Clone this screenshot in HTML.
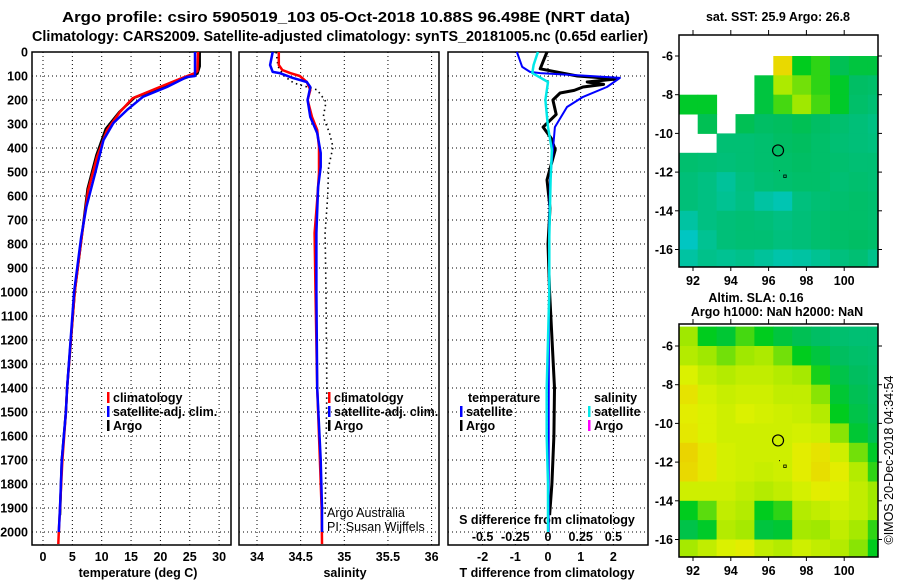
<!DOCTYPE html>
<html><head><meta charset="utf-8"><style>
html,body{margin:0;padding:0;background:#fff;}
svg{display:block;font-family:"Liberation Sans",sans-serif;}
.b{font-weight:bold;font-size:12.5px;}
</style></head><body>
<svg id="fig" width="900" height="580" viewBox="0 0 900 580" xmlns="http://www.w3.org/2000/svg">
<text x="62" y="22" textLength="568" lengthAdjust="spacingAndGlyphs" font-size="14.5" font-weight="bold">Argo profile: csiro 5905019_103 05-Oct-2018 10.88S 96.498E (NRT data)</text>
<text x="32" y="41" textLength="616" lengthAdjust="spacingAndGlyphs" font-size="14.5" font-weight="bold">Climatology: CARS2009. Satellite-adjusted climatology: synTS_20181005.nc (0.65d earlier)</text>
<text x="778" y="21" text-anchor="middle" class="b">sat. SST: 25.9 Argo: 26.8</text>
<text x="756" y="302" text-anchor="middle" class="b">Altim. SLA: 0.16</text>
<text x="777" y="316" text-anchor="middle" class="b">Argo h1000: NaN h2000: NaN</text>
<text transform="translate(893,460) rotate(-90)" text-anchor="middle" font-size="12.5">©IMOS 20-Dec-2018 04:34:54</text>
<g id="g1"></g><g id="g2"></g><g id="g3"></g><g id="m1"></g><g id="m2"></g>
</svg>
<script>
// ---------- profile data ----------
const tClimDepth=[0,80,88,112,146,192,250,325,437,575,770,1000,1400,1500,1700,1900,2000,2050];
const tClimVal=[26.4,26.3,25.9,23.3,19.9,15.3,13.1,10.9,9.2,7.7,6.6,5.4,4.1,3.9,3.3,2.9,2.7,2.6];
const tSatDepth=[0,100,104,146,187,242,296,367,504,645,770,1000,1400,1500,1700,1900,2000];
const tSatVal=[25.9,25.9,24.5,21.1,17.0,14.3,12.0,10.3,8.9,7.4,6.5,5.3,4.1,3.9,3.2,2.9,2.7];
const tArgoDepth=[0,60,90,110,146,190,250,320,430,570,770,1000,1400,1500,1700,1930];
const tArgoVal=[26.7,26.7,26.3,24.0,20.2,15.6,13.0,10.7,9.1,7.6,6.6,5.4,4.1,3.9,3.2,2.9];

const sClimDepth=[0,54,75,88,100,125,158,200,271,325,396,504,617,754,1000,1400,1700,1900,2050];
const sClimVal=[34.25,34.25,34.29,34.38,34.49,34.57,34.61,34.58,34.63,34.69,34.71,34.71,34.69,34.66,34.67,34.69,34.72,34.74,34.745];
const sSatDepth=[0,54,83,88,108,125,146,200,271,338,421,479,563,754,1000,1400,1700,1900,2000];
const sSatVal=[34.18,34.15,34.18,34.26,34.41,34.57,34.61,34.58,34.61,34.69,34.73,34.73,34.70,34.68,34.68,34.69,34.73,34.745,34.745];
const sArgoDepth=[0,60,100,129,158,208,271,338,396,479,600,754,1000,1400,1700,1930];
const sArgoVal=[34.22,34.24,34.31,34.42,34.69,34.79,34.76,34.83,34.87,34.82,34.81,34.78,34.79,34.80,34.79,34.78];

const dTDepth=[0,40,70,100,112,125,135,146,160,171,200,260,313,360,408,533,650,800,1000,1400,1600,1800,1930];
const dTArgo=[-0.03,-0.15,-0.24,0.9,2.1,1.2,1.7,1.07,0.8,0.37,0.15,0.25,-0.15,0.1,0.22,-0.03,0.06,0.0,0.05,0.2,0.18,0.12,0.05];
const dTSatDepth=[0,62,83,88,100,108,146,187,229,313,408,533,770,1000,1500,2000];
const dTSat=[-0.95,-0.79,-0.55,-0.24,1.28,2.2,1.8,1.07,0.58,0.21,0.15,0.06,0.03,0.03,0.02,0.02];
const dSSatDepth=[0,54,88,125,200,313,408,533,770,1000,1400,1600,1800,2000];
const dSSat=[-0.077,-0.11,-0.12,0.0,-0.02,0.0,0.03,0.02,0.01,0.01,-0.01,-0.01,0.0,0.0];

const depthTicks=[0,100,200,300,400,500,600,700,800,900,1000,1100,1200,1300,1400,1500,1600,1700,1800,1900,2000];
const tTicks=[0,5,10,15,20,25,30];
const sTicks=[34,34.5,35,35.5,36];
const sTickLabels=["34","34.5","35","35.5","36"];
const dTTicks=[-2,-1,0,1,2];
const dSTicks=[-0.5,-0.25,0,0.25,0.5];
const dSTickLabels=["-0.5","-0.25","0","0.25","0.5"];

// ---------- map data (colour index units) ----------
const mapLon=[91.25,92.25,93.25,94.25,95.25,96.25,97.25,98.25,99.25,100.25,101.25];
const mapLat=[-5,-6,-7,-8,-9,-10,-11,-12,-13,-14,-15,-16];
const N=NaN;
const sstGrid=[
[N,N,N,N,N,N,N,N,N,N,N],
[N,N,N,N,N,6.5,4.3,4.5,3.8,4,4],
[N,N,N,N,4,5.2,4.8,4.5,4.2,3.6,3.5],
[4.2,4.2,N,N,4,4.6,5,4.6,4.2,3.5,3.3],
[N,3.8,N,3.8,3.6,3.7,3.8,3.6,3.4,3.2,3],
[N,N,3.3,3.3,3.4,3.6,3.7,3.5,3.3,3.2,3.1],
[3.4,3.3,3.2,3.3,3.4,3.5,3.6,3.5,3.4,3.3,3.3],
[3.2,3,2.7,3.1,3.3,3.4,3.5,3.5,3.3,3.4,3.3],
[3.2,3.0,2.8,3.0,2.6,2.4,3.1,3.3,3.4,3.5,3.4],
[2.6,3.0,3.2,3.3,3.2,3.0,3.2,3.4,3.5,3.5,3.4],
[2.2,2.8,3.2,3.3,3.3,3.1,3.2,3.4,3.5,3.6,3.5],
[2.6,2.9,2.8,2.9,2.7,2.5,2.6,2.8,3.1,3.3,2.9]];
const slaGrid=[
[5.0,4.3,4.1,4.6,4.3,4.0,3.8,3.6,3.4,3.3,3.3],
[5.3,5.0,4.8,5.0,5.2,4.8,4.3,4.0,3.7,3.5,3.4],
[5.9,5.5,5.3,5.5,5.5,5.3,5.1,4.4,3.9,3.7,3.5],
[6.3,5.8,5.6,5.7,5.7,5.5,5.5,4.9,4.1,3.8,3.6],
[6.1,5.9,5.7,5.9,5.8,5.7,5.6,5.3,4.3,3.9,3.7],
[6.2,5.9,5.7,5.7,5.7,5.7,5.8,5.7,4.9,4.1,3.8],
[6.6,6.2,5.8,5.7,5.7,5.7,6.1,6.3,5.7,4.8,4.2],
[6.5,6.2,5.8,5.7,5.6,5.7,6.1,6.4,6.1,5.3,4.5],
[5.7,5.7,5.7,5.5,5.3,5.5,5.8,6.1,5.9,5.5,5.0],
[4.3,4.7,5.5,5.3,4.3,4.5,5.3,5.5,5.7,5.5,5.0],
[3.9,4.2,5.3,5.1,4.0,4.1,5.1,5.0,5.5,5.1,4.5],
[5.1,5.5,5.9,6.1,5.5,5.3,5.7,5.5,5.3,4.9,4.3]];
const lonTicks=[92,94,96,98,100];
const latTicks=[-6,-8,-10,-12,-14,-16];
const argoLon=96.5, argoLat=-10.88;

// ---------- helpers ----------
const NS="http://www.w3.org/2000/svg";
function mk(parent,tag,attrs,text){const e=document.createElementNS(NS,tag);for(const k in attrs)e.setAttribute(k,attrs[k]);if(text!==undefined)e.textContent=text;parent.appendChild(e);return e;}
const TOP=52, BOT=545;
const yD=d=>TOP+d*0.24;

function panel(g,L,R,xs,vticks,name){
  for(const t of vticks){const x=xs(t);
    const l=mk(g,'line',{x1:x,x2:x,y1:TOP,y2:BOT,stroke:'#000','stroke-width':1,'stroke-dasharray':'1 3'});
    
    }
  for(const d of depthTicks){const y=yD(d);
    const l=mk(g,'line',{x1:L,x2:R,y1:y,y2:y,stroke:'#000','stroke-width':1,'stroke-dasharray':'1 3'});
    
    }
  const f=mk(g,'rect',{x:L,y:TOP,width:R-L,height:BOT-TOP,fill:'none',stroke:'#000','stroke-width':1.5});
  
  
}
function line(g,xs,dep,val,color,w,name,dash){
  const pts=dep.map((d,i)=>xs(val[i]).toFixed(1)+','+yD(d).toFixed(1)).join(' ');
  const a={points:pts,fill:'none',stroke:color,'stroke-width':w,'stroke-linejoin':'round'};
  if(dash)a['stroke-dasharray']=dash;
  const p=mk(g,'polyline',a);
  
  
}
function txt(g,x,y,s,anchor,cls,name,extra){
  const a={x:x,y:y,'text-anchor':anchor||'start'};if(cls)a['class']=cls;
  if(extra)for(const k in extra)a[k]=extra[k];
  const t=mk(g,'text',a,s);
  
  
}
function legend(g,x,y,color,label,name){
  const r=mk(g,'rect',{x:x,y:y-10,width:2.5,height:11,fill:color});
  
  
  txt(g,x+6,y,label,'start','b',name+'-label');
}

// ---------- panel 1: temperature ----------
const g1=document.getElementById('g1');
const xT=t=>43+t*5.87;
panel(g1,32,231,xT,tTicks,'temperature-panel');
for(const d of depthTicks) txt(g1,28,yD(d)+4.5,String(d),'end','b','depth-tick-label');
for(const t of tTicks) txt(g1,xT(t),561,String(t),'middle','b','temperature-tick-label');
txt(g1,138,577,'temperature (deg C)','middle','b','temperature-axis-title');
line(g1,xT,tArgoDepth,tArgoVal,'#000000',2.5,'temperature-argo-line');
line(g1,xT,tClimDepth,tClimVal,'#ff0000',2.5,'temperature-climatology-line');
line(g1,xT,tSatDepth,tSatVal,'#0000ff',2.5,'temperature-satellite-line');
legend(g1,107,402,'#ff0000','climatology','temp-legend-climatology');
legend(g1,107,416,'#0000ff','satellite-adj. clim.','temp-legend-satellite');
legend(g1,107,430,'#000000','Argo','temp-legend-argo');

// ---------- panel 2: salinity ----------
const g2=document.getElementById('g2');
const xS=s=>257+(s-34)*87.3;
panel(g2,239,439,xS,sTicks,'salinity-panel');
sTicks.forEach((s,i)=>txt(g2,xS(s),561,sTickLabels[i],'middle','b','salinity-tick-label'));
txt(g2,345,577,'salinity','middle','b','salinity-axis-title');
line(g2,xS,sArgoDepth,sArgoVal,'#000000',1.6,'salinity-argo-line','1.5 3.5');
line(g2,xS,sClimDepth,sClimVal,'#ff0000',2.5,'salinity-climatology-line');
line(g2,xS,sSatDepth,sSatVal,'#0000ff',2.5,'salinity-satellite-line');
legend(g2,328,402,'#ff0000','climatology','sal-legend-climatology');
legend(g2,328,416,'#0000ff','satellite-adj. clim.','sal-legend-satellite');
legend(g2,328,430,'#000000','Argo','sal-legend-argo');
txt(g2,327,517,'Argo Australia','start',null,'credit-argo-australia',{'font-size':'12.5'});
txt(g2,327,531,'PI: Susan Wijffels','start',null,'credit-pi',{'font-size':'12.5'});

// ---------- panel 3: differences ----------
const g3=document.getElementById('g3');
const xdT=t=>548+t*32.7;
const xdS=s=>548+s*130.8;
panel(g3,448,648,xdT,dTTicks,'difference-panel');
for(const t of dTTicks) txt(g3,xdT(t),561,String(t),'middle','b','t-diff-tick-label');
dSTicks.forEach((s,i)=>txt(g3,xdS(s),541,dSTickLabels[i],'middle','b','s-diff-tick-label'));
txt(g3,547,524,'S difference from climatology','middle','b','s-diff-axis-title');
txt(g3,547,577,'T difference from climatology','middle','b','t-diff-axis-title');
line(g3,xdT,dTDepth,dTArgo,'#000000',3,'t-diff-argo-line');
line(g3,xdT,dTSatDepth,dTSat,'#0000ff',2,'t-diff-satellite-line');
line(g3,xdS,dSSatDepth,dSSat,'#00e8e8',2.5,'s-diff-satellite-line');
txt(g3,468,402,'temperature','start','b','diff-legend-temperature-heading');
legend(g3,460,416,'#0000ff','satellite','diff-legend-t-satellite');
legend(g3,460,430,'#000000','Argo','diff-legend-t-argo');
txt(g3,594,402,'salinity','start','b','diff-legend-salinity-heading');
legend(g3,588,416,'#00e8e8','satellite','diff-legend-s-satellite');
legend(g3,588,430,'#ff00ff','Argo','diff-legend-s-argo');

// ---------- maps ----------
const stops=[[0,[0,48,224]],[1,[0,150,240]],[2,[0,200,210]],[3,[0,192,130]],[3.7,[0,190,95]],[4.3,[0,204,30]],[5,[160,232,0]],[6,[225,242,0]],[7,[240,192,0]]];
function cmap(v){
  if(v<=0)return 'rgb('+stops[0][1]+')';
  for(let i=1;i<stops.length;i++){if(v<=stops[i][0]){const a=stops[i-1],b=stops[i],f=(v-a[0])/(b[0]-a[0]);
    return 'rgb('+a[1].map((c,k)=>Math.round(c+(b[1][k]-c)*f)).join(',')+')';}}
  return 'rgb('+stops[stops.length-1][1]+')';
}
function drawMap(gid,grid,L,T,R,B,lat6y,name){
  const g=document.getElementById(gid);
  const xL=lon=>693+(lon-92)*18.9;
  const yL=lat=>lat6y+(-6-lat)*19.35;
  const cid='clip-'+gid;
  const cp=mk(g,'clipPath',{id:cid});mk(cp,'rect',{x:L,y:T,width:R-L,height:B-T});
  const cg=mk(g,'g',{'clip-path':'url(#'+cid+')'});
  for(let i=0;i<mapLat.length;i++)for(let j=0;j<mapLon.length;j++){
    const v=grid[i][j];if(isNaN(v))continue;
    const x0=xL(mapLon[j]),y0=yL(mapLat[i]);
    const r=mk(cg,'rect',{x:x0.toFixed(1),y:y0.toFixed(1),width:19.4,height:19.8,fill:cmap(v)});
    
    
  }
  const f=mk(g,'rect',{x:L,y:T,width:R-L,height:B-T,fill:'none',stroke:'#000','stroke-width':1.5});
  
  
  for(const lon of lonTicks){const x=xL(lon);
    mk(g,'line',{x1:x,x2:x,y1:T,y2:T-5,stroke:'#000'});mk(g,'line',{x1:x,x2:x,y1:B,y2:B+4,stroke:'#000'});
    txt(g,x,B+18,String(lon),'middle','b',name+'-lon-label');}
  for(const lat of latTicks){const y=yL(lat);
    mk(g,'line',{x1:L,x2:L-4,y1:y,y2:y,stroke:'#000'});mk(g,'line',{x1:R,x2:R+4,y1:y,y2:y,stroke:'#000'});
    txt(g,L-6,y+4.5,String(lat),'end','b',name+'-lat-label');}
  const c=mk(g,'circle',{cx:xL(argoLon),cy:yL(argoLat),r:5.5,fill:'none',stroke:'#000','stroke-width':1.2});
  
  
  mk(g,'rect',{x:xL(96.8),y:yL(-12.15),width:2.5,height:2.5,fill:'none',stroke:'#000','stroke-width':0.8});
  mk(g,'rect',{x:xL(96.55),y:yL(-11.9),width:1,height:1,fill:'#000'});
}
drawMap('m1',sstGrid,679,35,878,267,56,'sst-map');
drawMap('m2',slaGrid,679,324,878,557,346,'sla-map');
</script>
</body></html>
